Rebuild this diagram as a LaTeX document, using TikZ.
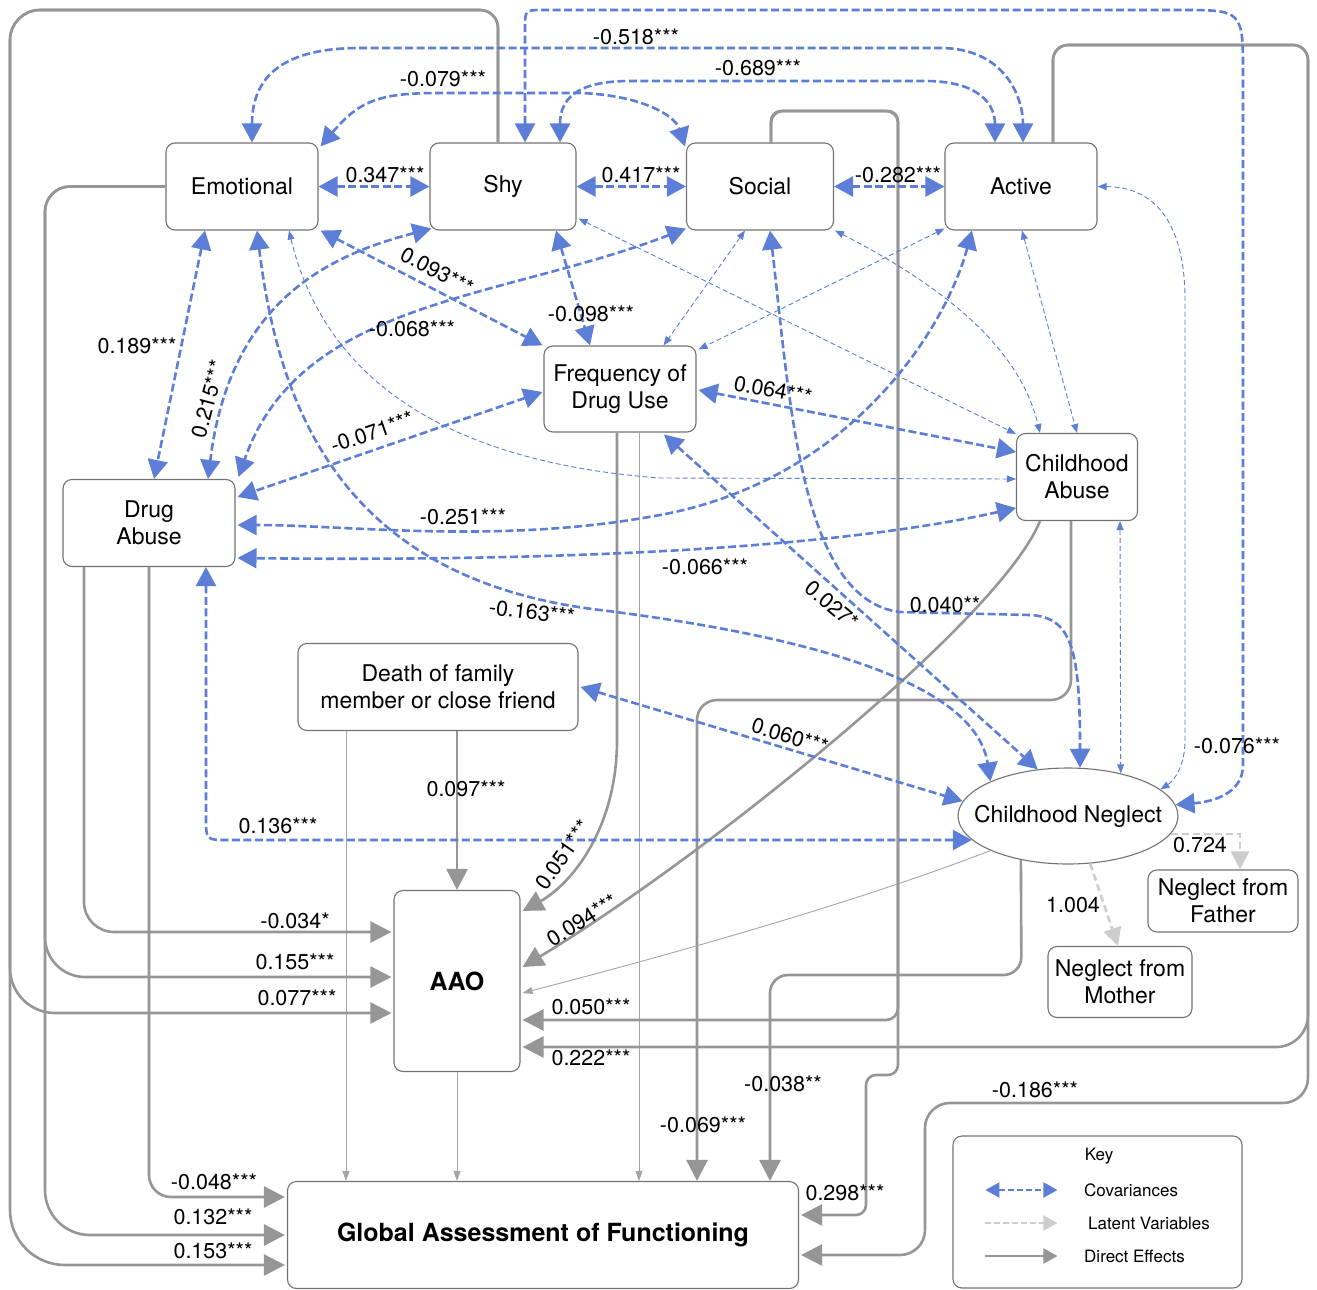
\documentclass[tikz,border=0pt]{standalone}
\usepackage{fontspec}
\setmainfont{TeX Gyre Heros}
\usetikzlibrary{arrows.meta,calc,shapes.geometric}
\definecolor{cb}{RGB}{92,126,214}
\definecolor{dg}{RGB}{150,150,150}
\definecolor{tg}{RGB}{165,165,165}
\definecolor{lg}{RGB}{205,205,205}
\definecolor{bd}{RGB}{115,115,115}
\newcommand{\nfont}{\fontsize{23}{27}\selectfont}
\newcommand{\lfont}{\fontsize{21.5}{25}\selectfont}
\newcommand{\bfont}{\fontsize{25}{30}\selectfont\bfseries}
\newcommand{\kfont}{\fontsize{17}{20}\selectfont}
\begin{document}
\begin{tikzpicture}[x=1pt,y=-1pt,
  box/.style={draw=bd, line width=1.1pt, rounded corners=9pt, fill=white, align=center, inner sep=1pt, font=\nfont},
  cov/.style={draw=cb, line width=2.6pt, dash pattern=on 8pt off 3.5pt, >={Triangle[length=19pt,width=20pt]}, <->},
  tcov/.style={draw=cb, line width=0.9pt, dash pattern=on 5pt off 3pt, >={Triangle[length=9pt,width=7pt]}, <->},
  lat/.style={draw=lg, line width=2.6pt, dash pattern=on 7pt off 4pt, >={Triangle[length=18pt,width=18pt]}, ->},
  dir/.style={draw=dg, line width=2.6pt, >={Triangle[length=21pt,width=21pt]}, ->},
  tdir/.style={draw=tg, line width=0.9pt, >={Triangle[length=10pt,width=7pt]}, ->},
  lab/.style={font=\lfont, inner sep=0pt},
  keytxt/.style={font=\kfont, inner sep=0pt, anchor=west}]
\useasboundingbox (0,0) rectangle (1317,1290);

% ---------- nodes ----------
\node[box, minimum width=152pt, minimum height=87pt] (emo) at (242,186.5) {Emotional};
\node[box, minimum width=146pt, minimum height=87pt] (shy) at (503,186.5) {Shy};
\node[box, minimum width=147pt, minimum height=87pt] (soc) at (760,186.5) {Social};
\node[box, minimum width=152pt, minimum height=87pt] (act) at (1021,186.5) {Active};
\node[box, minimum width=152pt, minimum height=86pt] (freq) at (620,389) {Frequency of\\Drug Use};
\node[box, minimum width=172pt, minimum height=87pt] (da) at (149,523) {Drug\\Abuse};
\node[box, minimum width=121pt, minimum height=87pt] (ca) at (1077,477) {Childhood\\Abuse};
\node[box, minimum width=280pt, minimum height=87pt] (death) at (438,687) {Death of family\\member or close friend};
\node[draw=bd, line width=1.1pt, fill=white, ellipse, minimum width=220pt, minimum height=96pt, inner sep=0pt, font=\nfont] (cn) at (1068,816) {\makebox[0pt]{Childhood Neglect}};
\node[box, minimum width=150pt, minimum height=62pt] (fat) at (1223,901) {Neglect from\\Father};
\node[box, minimum width=144pt, minimum height=71pt] (mot) at (1120,982) {Neglect from\\Mother};
\node[box, minimum width=126pt, minimum height=181pt, font=\bfont] (aao) at (457,981) {AAO};
\node[box, minimum width=511pt, minimum height=107pt, font=\bfont] (gaf) at (543,1235) {Global Assessment of Functioning};

% ---------- direct effects ----------
\draw[dir] ($(death.south)+(19,0)$) -- (aao.north);
\coordinate (dg1) at ($(death.south)+(-92,0)$);
\draw[tdir] (dg1) -- (dg1 |- gaf.north);
\draw[tdir] (aao.south) -- (aao.south |- gaf.north);
\coordinate (fg1) at ($(freq.south)+(19,0)$);
\draw[tdir] (fg1) -- (fg1 |- gaf.north);
\draw[dir] ($(freq.south)+(-3,0)$) -- (617,740) .. controls (617,830) and (570,885) .. ($(aao.north east)+(2,21)$);
\draw[dir] ($(ca.south)+(-37,0)$) .. controls (1000,620) and (700,860) .. ($(aao.east)+(2,-14)$);
\draw[dir, rounded corners=20pt] ($(ca.south)+(-6,0)$) -- (1071,700) -- (697,700) -- ($(gaf.north)+(154,0)$);
\draw[tdir] (cn.-156) .. controls (850,905) and (650,960) .. ($(aao.east)+(2,12)$);
\draw[dir, rounded corners=18pt] (cn.-137) -- (1021.4,975) -- (770,975) -- ($(gaf.north)+(227,0)$);
\draw[dir, rounded corners=12pt] ($(soc.north)+(11,0)$) -- (771,111) -- (898,111) -- (898,1020) -- ($(aao.east)+(2,39)$);
\draw[dir, rounded corners=10pt] ($(soc.north)+(11,0)$) -- (771,111) -- (898,111) -- (898,1075) -- (866,1075) -- (866,1215) -- ($(gaf.east)+(2,-20)$);
\draw[dir, rounded corners=15pt] ($(act.north)+(32,0)$) -- (1053,45) -- (1308,45) [rounded corners=32pt] -- (1308,1047) -- ($(aao.east)+(2,66)$);
\draw[dir, rounded corners=15pt] ($(act.north)+(32,0)$) -- (1053,45) -- (1308,45) [rounded corners=25pt] -- (1308,1103) -- (925,1103) -- (925,1255) -- ($(gaf.east)+(2,20)$);
\draw[dir, rounded corners=25pt] (emo.west) -- (45,186.5) [rounded corners=40pt] -- (45,977) -- ($(aao.west)+(-2,-4)$);
\draw[dir, rounded corners=25pt] (emo.west) -- (45,186.5) [rounded corners=45pt] -- (45,1235) -- ($(gaf.west)+(-2,0)$);
\draw[dir, rounded corners=18pt] ($(shy.north)+(-5,0)$) -- (498,10) [rounded corners=30pt] -- (10,10) [rounded corners=45pt] -- (10,1013) -- ($(aao.west)+(-2,32)$);
\draw[dir, rounded corners=18pt] ($(shy.north)+(-5,0)$) -- (498,10) [rounded corners=30pt] -- (10,10) [rounded corners=55pt] -- (10,1265) -- ($(gaf.west)+(-2,30)$);
\draw[dir, rounded corners=30pt] ($(da.south)+(-65,0)$) -- (84,932) -- ($(aao.west)+(-2,-49)$);
\draw[dir, rounded corners=22pt] (da.south) -- (149,1197) -- ($(gaf.west)+(-2,-38)$);

% ---------- latent ----------
\draw[lat] (cn.-10) -| ($(fat.north)+(17,0)$);
\draw[lat] (cn.-65) -- ($(mot.north)+(-2,0)$);

% ---------- thin covariances ----------
\draw[tcov] (act.east) .. controls (1160,187) and (1185,230) .. (1185,300) -- (1185,740) .. controls (1185,765) and (1175,780) .. (cn.16);
\draw[tcov] ($(act.south)+(1,0)$) -- (ca.north);
\draw[tcov] ($(soc.south east)+(1,0)$) .. controls (950,290) and (1020,350) .. ($(ca.north)+(-37,0)$);
\draw[tcov] ($(shy.south east)+(2,-12)$) -- ($(ca.north west)+(0,1)$);
\draw[tcov] ($(emo.south)+(47,0)$) .. controls (320,360) and (420,460) .. (660,478) -- ($(ca.west)+(0,2)$);
\draw[tcov] ($(soc.south)+(-15,0)$) -- ($(freq.north east)+(-33,0)$);
\draw[tcov] ($(act.south west)+(0,-2)$) -- ($(freq.north east)+(2,4)$);
\draw[tcov] ($(ca.south)+(43,0)$) -- (cn.39);

% ---------- covariances ----------
\draw[cov] (emo.east) -- (shy.west);
\draw[cov] (shy.east) -- (soc.west);
\draw[cov] (soc.east) -- (act.west);
\draw[cov] ($(emo.north east)+(2,4)$) .. controls (360,100) and (380,93) .. (440,93) -- (580,93) .. controls (640,95) and (675,115) .. ($(soc.north west)+(-1,4)$);
\draw[cov] ($(emo.north)+(10,0)$) .. controls (252,75) and (285,48) .. (360,48) -- (940,48) .. controls (1005,48) and ($(act.north)+(2,-45)$) .. ($(act.north)+(2,0)$);
\draw[cov] ($(shy.north)+(57,0)$) .. controls (560,100) and (575,81) .. (630,81) -- (925,81) .. controls (980,81) and (995,105) .. ($(act.north)+(-26,0)$);
\draw[cov] ($(shy.north)+(22,0)$) -- (525,28) .. controls (525,10) .. (543,10) -- (1180,10) .. controls (1243,10) .. (1243,75) -- (1243,765) .. controls (1243,795) and (1210,802) .. (cn.6);
\draw[cov] ($(emo.south)+(-37,0)$) -- ($(da.north)+(5,0)$);
\draw[cov] ($(shy.south west)+(2,-2)$) .. controls (330,255) and (230,300) .. ($(da.north)+(59,0)$);
\draw[cov] ($(soc.south west)+(0,-2)$) .. controls (500,300) and (300,300) .. ($(da.north east)+(3,-2)$);
\draw[cov] ($(freq.west)+(-1,3)$) -- ($(da.east)+(2,-26)$);
\draw[cov] ($(act.south)+(-49,0)$) .. controls (945,330) and (850,480) .. (660,515) .. controls (500,545) and (350,525) .. ($(da.east)+(2,2)$);
\draw[cov] ($(ca.west)+(0,31)$) .. controls (850,545) and (600,562) .. ($(da.east)+(2,35)$);
\draw[cov] ($(emo.south)+(15,0)$) .. controls (280,420) and (350,580) .. (600,610) .. controls (800,635) and (975,680) .. (cn.156);
\draw[cov] ($(da.south)+(57,0)$) -- (206,818) .. controls (206,840) .. (228,840) -- (cn.194);
\draw[cov] ($(emo.south east)+(2,0)$) -- ($(freq.north west)+(-1,0)$);
\draw[cov] ($(shy.south)+(53,0)$) -- ($(freq.north)+(-30,0)$);
\draw[cov] ($(freq.east)+(2,1)$) -- ($(ca.west)+(0,-25)$);
\draw[cov] ($(freq.south)+(44,2)$) -- (cn.123);
\draw[cov] ($(soc.south)+(10,0)$) .. controls (790,400) and (800,600) .. (900,612) -- (1030,615) .. controls (1072,617) and (1080,650) .. (cn.76);
\draw[cov] ($(death.east)+(2,0)$) -- (cn.172);

% ---------- labels ----------
\node[lab] (l01) at (385,175) {0.347***};
\node[lab] (l02) at (641,175) {0.417***};
\node[lab] (l03) at (898,175) {-0.282***};
\node[lab] (l04) at (443,79) {-0.079***};
\node[lab] (l05) at (636,37) {-0.518***};
\node[lab] (l06) at (758,68) {-0.689***};
\node[lab, rotate=-28] (l07) at (437,271) {0.093***};
\node[lab] (l08) at (591,314) {-0.098***};
\node[lab] (l09) at (137,346) {0.189***};
\node[lab] (l10) at (412,329) {-0.068***};
\node[lab, rotate=75] (l11) at (208,399) {0.215***};
\node[lab, rotate=19] (l12) at (372,432) {-0.071***};
\node[lab, rotate=-11] (l13) at (773,390) {0.064***};
\node[lab] (l14) at (463,517) {-0.251***};
\node[lab] (l15) at (705,567) {-0.066***};
\node[lab, rotate=-7] (l16) at (532,612) {-0.163***};
\node[lab, rotate=-40] (l17) at (832,605) {0.027*};
\node[lab] (l18) at (945,605) {0.040**};
\node[lab, rotate=-17] (l19) at (790,736) {0.060***};
\node[lab] (l20) at (1237,746) {-0.076***};
\node[lab] (l21) at (466,789) {0.097***};
\node[lab] (l22) at (278,826) {0.136***};
\node[lab] (l23) at (1200,845) {0.724};
\node[lab, rotate=55] (l24) at (563,855) {0.051***};
\node[lab] (l25) at (1073,905) {1.004};
\node[lab, rotate=32] (l26) at (582,920) {0.094***};
\node[lab] (l27) at (295,921) {-0.034*};
\node[lab] (l28) at (295,962) {0.155***};
\node[lab] (l29) at (297,998) {0.077***};
\node[lab] (l30) at (591,1007) {0.050***};
\node[lab] (l31) at (591,1058) {0.222***};
\node[lab] (l32) at (783,1084) {-0.038**};
\node[lab] (l33) at (1035,1090) {-0.186***};
\node[lab] (l34) at (703,1125) {-0.069***};
\node[lab] (l35) at (214,1182) {-0.048***};
\node[lab] (l36) at (845,1193) {0.298***};
\node[lab] (l37) at (213,1217) {0.132***};
\node[lab] (l38) at (213,1251) {0.153***};

% ---------- key ----------
\node[draw=bd, line width=1.1pt, rounded corners=9pt, minimum width=289pt, minimum height=152pt, inner sep=0pt] (key) at (1097.5,1212) {};
\node[keytxt, anchor=center] (keyt) at (1099,1156) {Key};
\coordinate (ka1) at ($(key.west)+(33,-22)$);
\coordinate (kb1) at ($(key.west)+(105,-22)$);
\draw[cov, line width=2pt, dash pattern=on 6pt off 3pt, >={Triangle[length=14pt,width=15pt]}] (ka1) -- (kb1);
\node[keytxt] (kt1) at (1084,1190) {Covariances};
\coordinate (ka2) at ($(key.west)+(33,11)$);
\coordinate (kb2) at ($(key.west)+(105,11)$);
\draw[lat, line width=2pt, dash pattern=on 6pt off 3pt, >={Triangle[length=14pt,width=15pt]}] (ka2) -- (kb2);
\node[keytxt] (kt2) at (1088,1223) {Latent Variables};
\coordinate (ka3) at ($(key.west)+(33,44)$);
\coordinate (kb3) at ($(key.west)+(105,44)$);
\draw[dir, line width=2pt, >={Triangle[length=14pt,width=15pt]}] (ka3) -- (kb3);
\node[keytxt] (kt3) at (1084,1256) {Direct Effects};
\end{tikzpicture}
\end{document}
